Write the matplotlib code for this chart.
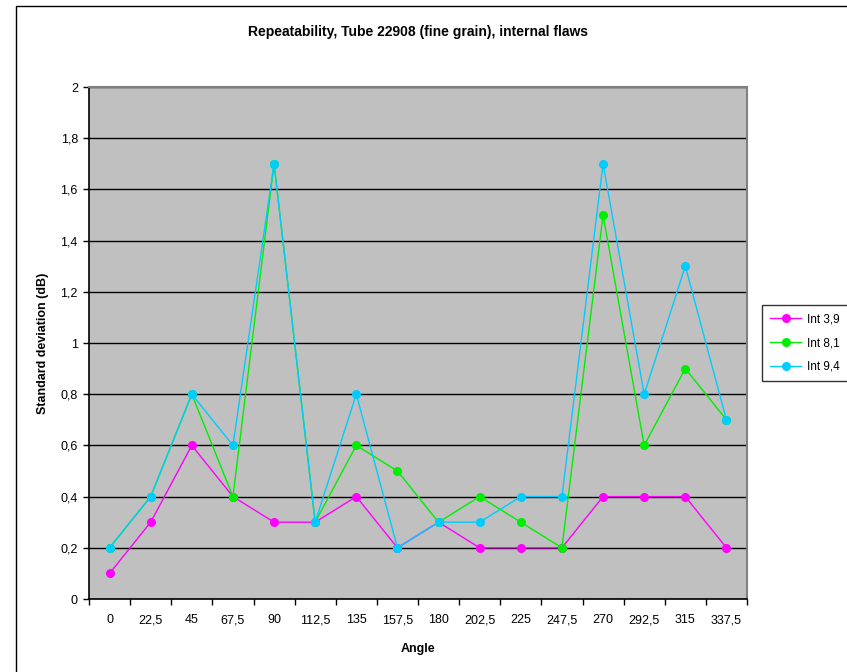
import matplotlib.pyplot as plt
from matplotlib.patches import Rectangle

plt.rcParams["font.family"] = ["Liberation Sans", "DejaVu Sans"]

# ---------------------------------------------------------------------------
# data
# ---------------------------------------------------------------------------
angles = ["0", "22,5", "45", "67,5", "90", "112,5", "135", "157,5", "180",
          "202,5", "225", "247,5", "270", "292,5", "315", "337,5"]
int_3_9 = [0.1, 0.3, 0.6, 0.4, 0.3, 0.3, 0.4, 0.2, 0.3, 0.2, 0.2, 0.2,
           0.4, 0.4, 0.4, 0.2]
int_8_1 = [0.2, 0.4, 0.8, 0.4, 1.7, 0.3, 0.6, 0.5, 0.3, 0.4, 0.3, 0.2,
           1.5, 0.6, 0.9, 0.7]
int_9_4 = [0.2, 0.4, 0.8, 0.6, 1.7, 0.3, 0.8, 0.2, 0.3, 0.3, 0.4, 0.4,
           1.7, 0.8, 1.3, 0.7]
series = [("Int 3,9", int_3_9, "#FF00FF"),
          ("Int 8,1", int_8_1, "#00EE00"),
          ("Int 9,4", int_9_4, "#00CCFF")]

W, H = 847, 672
fig = plt.figure(figsize=(W / 100, H / 100), dpi=100)

# outer chart border (only left/top visible in the reference)
fig.patches.append(Rectangle((16 / W, -0.05), 1.2, 1 - 6 / H + 0.05,
                             transform=fig.transFigure, fill=False,
                             edgecolor="black", linewidth=1.0))

left, right, top, bottom = 89, 747, 87, 599
ax = fig.add_axes([left / W, 1 - bottom / H, (right - left) / W,
                   (bottom - top) / H])
ax.set_facecolor("#C0C0C0")

x = list(range(len(angles)))
for label, vals, color in series:
    ax.plot(x, vals, color=color, linewidth=1.0, marker="o", markersize=5.5,
            label=label, zorder=3, clip_on=False)

ax.set_xlim(-0.5, len(angles) - 0.5)
ax.set_ylim(0, 2)

# x: tick marks between categories, labels at categories
ax.set_xticks([i - 0.5 for i in range(len(angles) + 1)])
ax.set_xticklabels([])
ax.set_xticks(x, minor=True)
ax.set_xticklabels(angles, minor=True)
ax.tick_params(axis="x", which="major", direction="out", length=4,
               width=1, color="black")
ax.tick_params(axis="x", which="minor", length=0, pad=11, labelsize=9)

yt = [i * 0.2 for i in range(11)]
ax.set_yticks(yt)
ax.set_yticklabels(["0" if v == 0 else ("%g" % round(v, 1)).replace(".", ",")
                    for v in yt])
ax.tick_params(axis="y", direction="out", length=4, width=1, labelsize=9,
               pad=4)
ax.yaxis.grid(True, color="black", linewidth=1.0)
ax.set_axisbelow(True)

for side in ["left", "bottom"]:
    ax.spines[side].set_color("black")
    ax.spines[side].set_linewidth(1.2)
for side in ["top", "right"]:
    ax.spines[side].set_color("#808080")
    ax.spines[side].set_linewidth(1.5)

ax.set_xlabel("Angle", fontsize=9, fontweight="bold", labelpad=12)
ax.set_ylabel("Standard deviation (dB)", fontsize=9, fontweight="bold",
              labelpad=8)
fig.text(0.5 * (left + right) / W, 1 - 32 / H,
         "Repeatability, Tube 22908 (fine grain), internal flaws",
         ha="center", va="center", fontsize=10, fontweight="bold")

leg = fig.legend(loc="upper left", bbox_to_anchor=(762 / W, 1 - 305 / H),
                 fontsize=8.5, frameon=True, fancybox=False,
                 handlelength=2.6, borderpad=0.7, labelspacing=1.0,
                 handletextpad=0.5, borderaxespad=0)
leg.get_frame().set_edgecolor("black")
leg.get_frame().set_linewidth(1.0)

fig.savefig("out.png", dpi=100)
